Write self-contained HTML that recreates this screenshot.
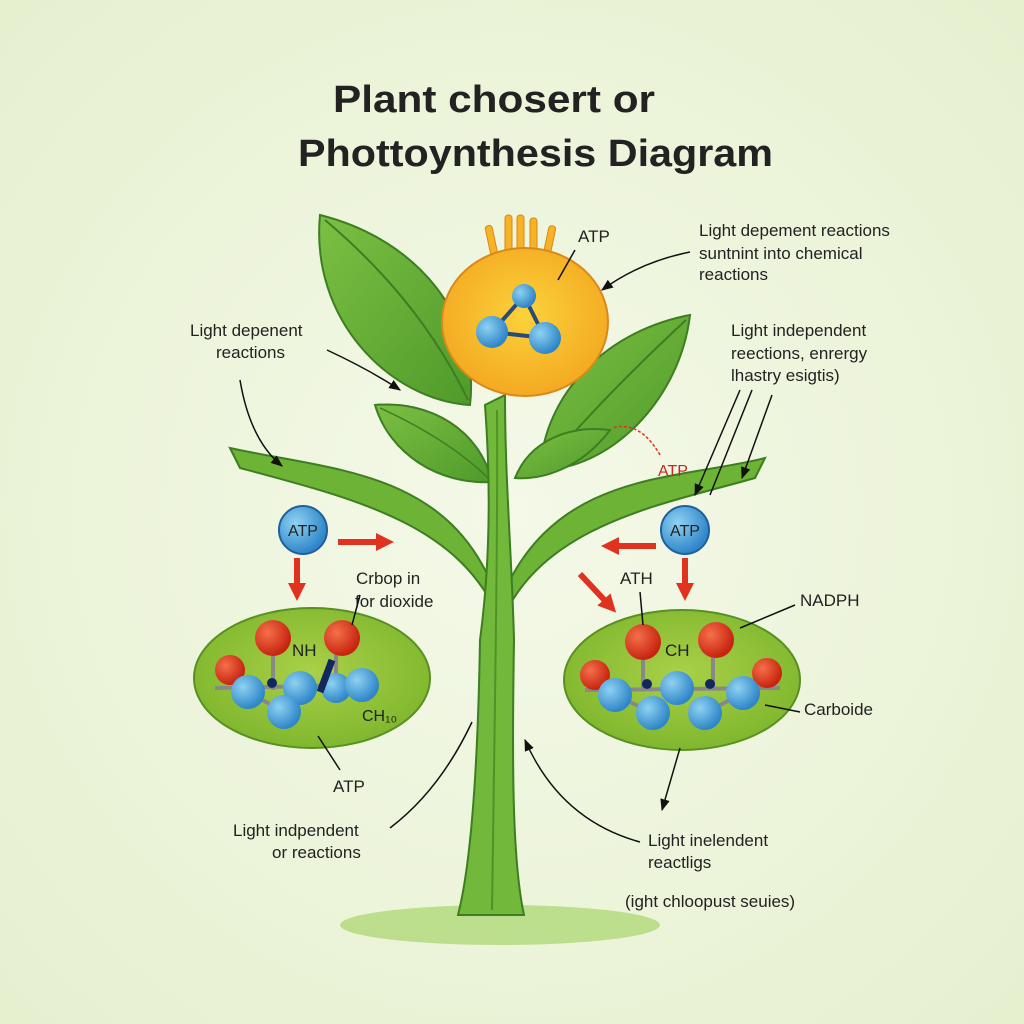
<!DOCTYPE html>
<html><head><meta charset="utf-8"><style>
html,body{margin:0;padding:0;width:1024px;height:1024px;overflow:hidden;background:#eef5dc}
svg{display:block}
text{font-family:"Liberation Sans",sans-serif;fill:#222}
</style></head><body>
<svg width="1024" height="1024" viewBox="0 0 1024 1024" xmlns="http://www.w3.org/2000/svg">
<defs>
<radialGradient id="bg" cx="50%" cy="50%" r="70%"><stop offset="0" stop-color="#f4f9e8"/><stop offset="1" stop-color="#e6f0cf"/></radialGradient>
<radialGradient id="ell" cx="50%" cy="45%" r="60%"><stop offset="0" stop-color="#a9d048"/><stop offset="1" stop-color="#7cb52c"/></radialGradient>
<radialGradient id="fl" cx="50%" cy="45%" r="60%"><stop offset="0" stop-color="#fbd23a"/><stop offset="1" stop-color="#f3a620"/></radialGradient>
<radialGradient id="bl" cx="35%" cy="35%" r="65%"><stop offset="0" stop-color="#8fd2f2"/><stop offset="1" stop-color="#2f86c8"/></radialGradient>
<radialGradient id="rd" cx="35%" cy="35%" r="65%"><stop offset="0" stop-color="#f5704a"/><stop offset="1" stop-color="#c72410"/></radialGradient>
<linearGradient id="lf" x1="0" y1="0" x2="1" y2="1"><stop offset="0" stop-color="#7cc043"/><stop offset="1" stop-color="#4f9a2a"/></linearGradient>
<marker id="ah" viewBox="0 0 10 10" refX="9" refY="5" markerWidth="8" markerHeight="8" orient="auto"><path d="M0,1 L10,5 L0,9 z" fill="#111"/></marker>
<marker id="ra" viewBox="0 0 10 10" refX="5" refY="5" markerWidth="3" markerHeight="3" orient="auto"><path d="M0,0 L10,5 L0,10 z" fill="#e03220"/></marker>
</defs>
<rect width="1024" height="1024" fill="url(#bg)"/>
<ellipse cx="500" cy="925" rx="160" ry="20" fill="#9cd05a" opacity="0.6"/>
<text x="333" y="112" font-size="38" font-weight="600" fill="#2a2a2a" textLength="322" lengthAdjust="spacingAndGlyphs">Plant chosert or</text>
<text x="298" y="166" font-size="38" font-weight="600" fill="#2a2a2a" textLength="475" lengthAdjust="spacingAndGlyphs">Phottoynthesis Diagram</text>

<!-- leaves -->
<path d="M320,215 C420,240 480,320 470,405 C390,400 310,320 320,215 Z" fill="url(#lf)" stroke="#3e7d22" stroke-width="2"/>
<path d="M325,220 Q420,300 468,400" stroke="#3e7d22" stroke-width="2" fill="none"/>
<path d="M690,315 C680,400 610,470 540,470 C545,390 610,330 690,315 Z" fill="url(#lf)" stroke="#3e7d22" stroke-width="2"/>
<path d="M686,320 Q600,400 545,466" stroke="#3e7d22" stroke-width="2" fill="none"/>
<path d="M375,405 C430,400 480,430 492,482 C440,485 390,455 375,405 Z" fill="url(#lf)" stroke="#3e7d22" stroke-width="2"/>
<path d="M380,408 Q450,440 490,480" stroke="#3e7d22" stroke-width="1.5" fill="none"/>
<path d="M610,430 C580,470 540,480 515,478 C530,440 570,425 610,430 Z" fill="url(#lf)" stroke="#3e7d22" stroke-width="2"/>
<!-- branches -->
<path d="M230,448 C330,470 440,470 490,580 L500,620 C460,525 360,500 240,468 Z" fill="#6cb336" stroke="#3e7d22" stroke-width="2"/>
<path d="M765,458 C680,480 560,470 505,590 L500,625 C540,525 660,505 755,478 Z" fill="#6cb336" stroke="#3e7d22" stroke-width="2"/>
<!-- stem -->
<path d="M485,405 C492,500 488,580 480,640 C478,760 472,860 458,915 L524,915 C512,860 512,760 514,640 C512,560 505,480 505,395 Z" fill="#72b83a" stroke="#3e7d22" stroke-width="2"/>
<path d="M497,410 C498,520 495,700 492,910" stroke="#4d9428" stroke-width="2" fill="none"/>
<!-- flower -->
<g fill="#f5b325" stroke="#d9891a" stroke-width="1">
<rect x="492" y="225" width="7" height="70" rx="3" transform="rotate(-12 495 260)"/>
<rect x="505" y="215" width="7" height="80" rx="3"/>
<rect x="517" y="215" width="7" height="80" rx="3"/>
<rect x="530" y="218" width="7" height="78" rx="3"/>
<rect x="542" y="225" width="7" height="70" rx="3" transform="rotate(12 545 260)"/>
</g>
<ellipse cx="525" cy="322" rx="83" ry="74" fill="url(#fl)" stroke="#d9891a" stroke-width="2"/>
<g stroke="#2a4a7a" stroke-width="4"><line x1="524" y1="296" x2="492" y2="332"/><line x1="524" y1="296" x2="545" y2="338"/><line x1="492" y1="332" x2="545" y2="338"/></g>
<circle cx="524" cy="296" r="12" fill="url(#bl)"/><circle cx="492" cy="332" r="16" fill="url(#bl)"/><circle cx="545" cy="338" r="16" fill="url(#bl)"/>

<!-- left ellipse -->
<ellipse cx="312" cy="678" rx="118" ry="70" fill="url(#ell)" stroke="#5a8f22" stroke-width="2"/>
<g stroke="#888" stroke-width="4"><line x1="215" y1="688" x2="365" y2="685"/><line x1="273" y1="638" x2="273" y2="690"/><line x1="336" y1="640" x2="336" y2="690"/><line x1="248" y1="692" x2="284" y2="712"/><line x1="300" y1="688" x2="284" y2="712"/></g>
<circle cx="230" cy="670" r="15" fill="url(#rd)"/>
<circle cx="273" cy="638" r="18" fill="url(#rd)"/><circle cx="342" cy="638" r="18" fill="url(#rd)"/>
<circle cx="248" cy="692" r="17" fill="url(#bl)"/><circle cx="300" cy="688" r="17" fill="url(#bl)"/><circle cx="336" cy="688" r="15" fill="url(#bl)"/><circle cx="362" cy="685" r="17" fill="url(#bl)"/><circle cx="284" cy="712" r="17" fill="url(#bl)"/>
<circle cx="272" cy="683" r="5" fill="#13275e"/><path d="M320,692 L332,660" stroke="#13275e" stroke-width="7"/>
<text x="292" y="656" font-size="17">NH</text><text x="362" y="721" font-size="16">CH₁₀</text>

<!-- right ellipse -->
<ellipse cx="682" cy="680" rx="118" ry="70" fill="url(#ell)" stroke="#5a8f22" stroke-width="2"/>
<g stroke="#888" stroke-width="4"><line x1="585" y1="690" x2="780" y2="688"/><line x1="643" y1="642" x2="643" y2="688"/><line x1="713" y1="642" x2="713" y2="688"/><line x1="615" y1="695" x2="653" y2="713"/><line x1="743" y1="693" x2="705" y2="713"/></g>
<circle cx="595" cy="675" r="15" fill="url(#rd)"/><circle cx="767" cy="673" r="15" fill="url(#rd)"/>
<circle cx="643" cy="642" r="18" fill="url(#rd)"/><circle cx="716" cy="640" r="18" fill="url(#rd)"/>
<circle cx="615" cy="695" r="17" fill="url(#bl)"/><circle cx="677" cy="688" r="17" fill="url(#bl)"/><circle cx="743" cy="693" r="17" fill="url(#bl)"/><circle cx="653" cy="713" r="17" fill="url(#bl)"/><circle cx="705" cy="713" r="17" fill="url(#bl)"/>
<circle cx="647" cy="684" r="5" fill="#13275e"/><circle cx="710" cy="684" r="5" fill="#13275e"/>
<text x="665" y="656" font-size="17">CH</text>

<!-- ATP circles -->
<circle cx="303" cy="530" r="24" fill="url(#bl)" stroke="#1f5f9e" stroke-width="2"/><text x="303" y="536" font-size="16" text-anchor="middle">ATP</text>
<circle cx="685" cy="530" r="24" fill="url(#bl)" stroke="#1f5f9e" stroke-width="2"/><text x="685" y="536" font-size="16" text-anchor="middle">ATP</text>
<!-- red arrows -->
<g stroke="#e03220" stroke-width="6" fill="none" marker-end="url(#ra)">
<line x1="338" y1="542" x2="385" y2="542"/><line x1="297" y1="558" x2="297" y2="592"/>
<line x1="656" y1="546" x2="610" y2="546"/><line x1="685" y1="558" x2="685" y2="592"/>
<line x1="580" y1="574" x2="610" y2="606"/>
</g>
<path d="M660,455 Q640,420 612,428" stroke="#e03220" stroke-width="1.5" fill="none" stroke-dasharray="3 2"/>
<text x="658" y="476" font-size="16" style="fill:#c8281a">ATP</text>

<!-- labels & connectors -->
<g font-size="17">
<text x="578" y="242">ATP</text>
<text x="699" y="236">Light depement reactions</text>
<text x="699" y="259">suntnint into chemical</text>
<text x="699" y="280">reactions</text>
<text x="190" y="336">Light depenent</text>
<text x="216" y="358">reactions</text>
<text x="731" y="336">Light independent</text>
<text x="731" y="359">reections, enrergy</text>
<text x="731" y="381">lhastry esigtis)</text>
<text x="356" y="584">Crbop in</text>
<text x="355" y="607">for dioxide</text>
<text x="620" y="584">ATH</text>
<text x="800" y="606">NADPH</text>
<text x="804" y="715">Carboide</text>
<text x="333" y="792">ATP</text>
<text x="233" y="836">Light indpendent</text>
<text x="272" y="858">or reactions</text>
<text x="648" y="846">Light inelendent</text>
<text x="648" y="868">reactligs</text>
<text x="625" y="907">(ight chloopust seuies)</text>
</g>
<g stroke="#111" stroke-width="1.5" fill="none">
<path d="M575,250 L558,280"/>
<path d="M690,252 Q640,262 602,290" marker-end="url(#ah)"/>
<path d="M327,350 Q370,370 400,390" marker-end="url(#ah)"/>
<path d="M240,380 Q250,440 282,466" marker-end="url(#ah)"/>
<path d="M740,390 L695,495" marker-end="url(#ah)"/>
<path d="M752,390 L710,495"/>
<path d="M772,395 L742,478" marker-end="url(#ah)"/>
<path d="M360,595 L352,625"/>
<path d="M640,592 L643,625"/>
<path d="M795,605 L740,628"/>
<path d="M800,712 L765,705"/>
<path d="M318,736 L340,770"/>
<path d="M390,828 Q440,790 472,722"/>
<path d="M640,842 Q560,820 525,740" marker-end="url(#ah)"/>
<path d="M680,748 L662,810" marker-end="url(#ah)"/>
</g>
</svg>
</body></html>
